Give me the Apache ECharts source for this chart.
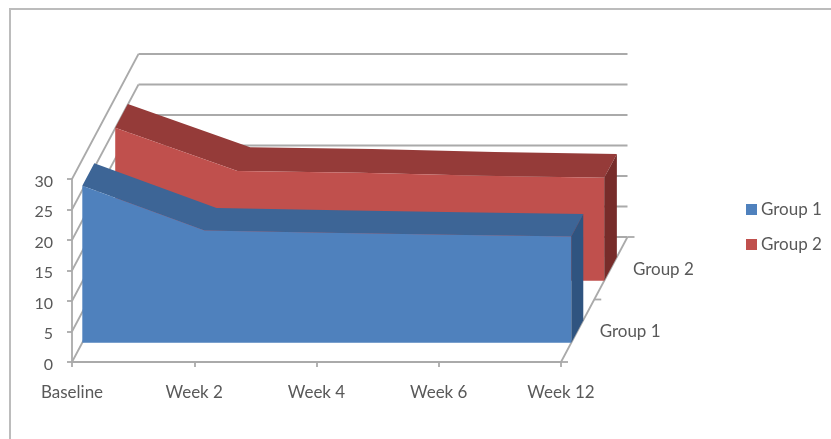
<!DOCTYPE html>
<html>
<head>
<meta charset="utf-8">
<style>html,body{margin:0;padding:0;background:#fff}#chart{width:831px;height:439px}</style>
<script src="https://cdn.jsdelivr.net/npm/echarts@6/dist/echarts.min.js"></script>
</head>
<body>
<div id="chart"></div>
<script>
// Values over the study visits
const categories = ['Baseline', 'Week 2', 'Week 4', 'Week 6', 'Week 12'];
const group1 = [25.7, 18.4, 18.0, 17.7, 17.4];
const group2 = [25.1, 18.0, 17.7, 17.2, 16.9];
const valueTicks = [0, 5, 10, 15, 20, 25, 30];
const depthLabels = ['Group 1', 'Group 2'];
const depthTicks = [0, 0.5, 1];

// Oblique projection: how far the back wall sits from the front plane, in pixels
const DEPTH = [66.5, -125];
const BAND_G1 = [0.155, 0.335];
const BAND_G2 = [0.65, 0.84];

const FONT = 'Lato';
const TEXT = '#595959';
const LINE = '#aaaaaa';

function project(api, cat, value, t) {
  const p = api.coord([cat, value]);
  return [p[0] + DEPTH[0] * t, p[1] + DEPTH[1] * t];
}

// One whole ribbon of the area: top face, front face and closing side face
function ribbon(values, band, colors) {
  return function (params, api) {
    if (params.dataIndex !== 0) return null;
    const last = values.length - 1;
    const front = values.map((v, i) => project(api, i, v, band[0]));
    const back = values.map((v, i) => project(api, i, v, band[1]));
    const face = (points, fill) => ({ type: 'polygon', shape: { points }, style: { fill } });
    return {
      type: 'group',
      children: [
        face(front.concat(back.slice().reverse()), colors.top),
        face([project(api, 0, 0, band[0])].concat(front, [project(api, last, 0, band[0])]), colors.front),
        face([
          project(api, last, 0, band[0]), front[last],
          back[last], project(api, last, 0, band[1])
        ], colors.side)
      ]
    };
  };
}

function lineShape(p, q) {
  return {
    type: 'line',
    shape: { x1: p[0], y1: p[1], x2: q[0], y2: q[1] },
    style: { stroke: LINE, lineWidth: 1.8 }
  };
}

// Side wall and back wall rules, one per value tick
function renderWall(params, api) {
  const v = valueTicks[params.dataIndex];
  const last = categories.length - 1;
  return {
    type: 'group',
    children: [
      lineShape(project(api, 0, v, 0), project(api, 0, v, 1)),
      lineShape(project(api, 0, v, 1), project(api, last, v, 1))
    ]
  };
}

// Receding floor edge on the right with its ticks
function renderDepthTick(params, api) {
  const last = categories.length - 1;
  const t = depthTicks[params.dataIndex];
  const p = project(api, last, 0, t);
  const kids = [lineShape(p, [p[0] + 7, p[1]])];
  if (params.dataIndex === 0) kids.push(lineShape(project(api, last, 0, 0), project(api, last, 0, 1)));
  return { type: 'group', children: kids };
}

function renderDepthLabel(params, api) {
  const last = categories.length - 1;
  const t = (params.dataIndex + 0.5) / depthLabels.length;
  const p = project(api, last, 0, t);
  return {
    type: 'text',
    style: {
      x: p[0] + 22, y: p[1] + 1, text: depthLabels[params.dataIndex],
      font: '17px ' + FONT, fill: TEXT, textVerticalAlign: 'middle'
    }
  };
}

const seriesData = (vals) => vals.map((v, i) => [i, v]);

const chart = echarts.init(document.getElementById('chart'), null, { renderer: 'canvas' });
chart.setOption({
  animation: false,
  backgroundColor: '#fff',
  graphic: [{
    type: 'polyline',
    shape: { points: [[10, 439], [10, 9], [831, 9]] },
    style: { stroke: '#bcbcbc', lineWidth: 2, fill: null }
  }],
  grid: { left: 72, right: 270, top: 179, bottom: 77 },
  legend: {
    orient: 'vertical', left: 741, top: 196,
    itemWidth: 11, itemHeight: 11, itemGap: 18,
    data: [
      { name: 'Group 1', icon: 'rect' },
      { name: 'Group 2', icon: 'rect' }
    ],
    textStyle: { fontFamily: FONT, fontSize: 17, color: TEXT, padding: [0, 0, 0, -1] }
  },
  xAxis: {
    type: 'category', data: categories, boundaryGap: false,
    axisLine: { lineStyle: { color: LINE, width: 1.8 } },
    axisTick: { show: true, length: 5, lineStyle: { color: LINE, width: 1.8 } },
    axisLabel: { fontFamily: FONT, fontSize: 17, color: TEXT, margin: 22, interval: 0 },
    splitLine: { show: false }
  },
  yAxis: {
    type: 'value', min: 0, max: 30, interval: 5,
    axisLine: { show: true, lineStyle: { color: LINE, width: 1.8 } },
    axisTick: { show: true, length: 5, lineStyle: { color: LINE, width: 1.8 } },
    axisLabel: {
      margin: 19,
      formatter: '{tick|{value}}',
      rich: { tick: { fontFamily: FONT, fontSize: 16, color: TEXT, padding: [5, 0, 0, 0] } }
    },
    splitLine: { show: false }
  },
  series: [
    { type: 'custom', name: 'wall', z: 1, silent: true, data: valueTicks.map(v => [0, v]), renderItem: renderWall },
    { type: 'custom', name: 'depth', z: 1, silent: true, data: depthTicks.map(() => [4, 0]), renderItem: renderDepthTick },
    { type: 'custom', name: 'depthLabels', z: 1, silent: true, data: depthLabels.map(() => [4, 0]), renderItem: renderDepthLabel },
    {
      type: 'custom', name: 'Group 2', z: 3, data: seriesData(group2),
      itemStyle: { color: '#c0504d' },
      renderItem: ribbon(group2, BAND_G2, { front: '#c0504d', top: '#953b39', side: '#772c2a' })
    },
    {
      type: 'custom', name: 'Group 1', z: 4, data: seriesData(group1),
      itemStyle: { color: '#4f81bd' },
      renderItem: ribbon(group1, BAND_G1, { front: '#4f81bd', top: '#3d6596', side: '#2f5480' })
    }
  ]
});
</script>
</body>
</html>
